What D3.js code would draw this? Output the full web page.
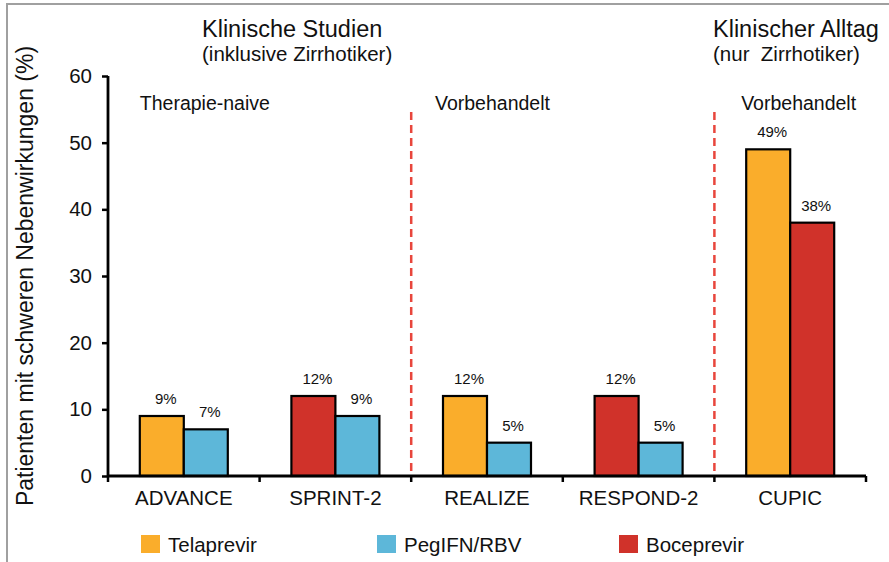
<!DOCTYPE html>
<html>
<head>
<meta charset="utf-8">
<script src="https://cdn.jsdelivr.net/npm/d3@7/dist/d3.min.js"></script>
<style>
  html, body { margin: 0; padding: 0; background: #fff; }
  svg { display: block; font-family: "Liberation Sans", Arial, sans-serif; }
</style>
</head>
<body>
<svg id="chart" width="889" height="562"></svg>
<script>
// ---- data ----
const categories = ["ADVANCE", "SPRINT-2", "REALIZE", "RESPOND-2", "CUPIC"];
const firstSeries = ["Telaprevir", "Boceprevir", "Telaprevir", "Boceprevir", "Telaprevir"];
const firstValues = [9, 12, 12, 12, 49];
const secondSeries = ["PegIFN/RBV", "PegIFN/RBV", "PegIFN/RBV", "PegIFN/RBV", "Boceprevir"];
const secondValues = [7, 9, 5, 5, 38];
const legendSeries = ["Telaprevir", "PegIFN/RBV", "Boceprevir"];
const yTicks = [0, 10, 20, 30, 40, 50, 60];
const sectionLabels = ["Therapie-naive", "Vorbehandelt", "Vorbehandelt"];
const sectionStart = ["ADVANCE", "REALIZE", "CUPIC"];
const separatorsBefore = ["REALIZE", "CUPIC"];

const colors = { "Telaprevir": "#FAAD2B", "PegIFN/RBV": "#5DB7D9", "Boceprevir": "#D0322A" };

const bars = [];
categories.forEach((c, i) => {
  bars.push({ cat: c, slot: 0, series: firstSeries[i], value: firstValues[i] });
  bars.push({ cat: c, slot: 1, series: secondSeries[i], value: secondValues[i] });
});

const svg = d3.select("#chart");
const font = "'Liberation Sans', Arial, sans-serif";

// border (left + top)
svg.append("path").attr("d", "M7,562 L7,4 L889,4")
  .attr("fill", "none").attr("stroke", "#a0a0a0").attr("stroke-width", 2);

const x = d3.scaleBand().domain(categories).range([108, 866]).padding(0);
const barW = 44;
const inner = d3.scaleBand().domain([0, 1])
  .range([x.bandwidth() / 2 - barW, x.bandwidth() / 2 + barW]).padding(0);
const y = d3.scaleLinear().domain([0, 60]).range([476, 76]);

// dashed separators
svg.append("g").selectAll("line").data(separatorsBefore).join("line")
  .attr("x1", d => x(d)).attr("x2", d => x(d))
  .attr("y1", 112).attr("y2", y(0))
  .attr("stroke", "#E8463C").attr("stroke-width", 2.5)
  .attr("stroke-dasharray", "8,5");

// bars
svg.append("g").selectAll("rect").data(bars).join("rect")
  .attr("x", d => x(d.cat) + inner(d.slot))
  .attr("y", d => y(d.value))
  .attr("width", inner.bandwidth())
  .attr("height", d => y(0) - y(d.value))
  .attr("fill", d => colors[d.series])
  .attr("stroke", "#000").attr("stroke-width", 2.2);

// value labels
svg.append("g").selectAll("text").data(bars).join("text")
  .attr("x", d => x(d.cat) + inner(d.slot) + inner.bandwidth() / 2 + 4)
  .attr("y", d => y(d.value) - 12)
  .attr("text-anchor", "middle")
  .attr("font-size", 15).attr("fill", "#111")
  .text(d => d.value + "%");

// y axis
const yAxis = svg.append("g").attr("transform", "translate(108,0)")
  .call(d3.axisLeft(y).tickValues(yTicks).tickSize(6).tickPadding(10).tickFormat(d3.format("d")));
yAxis.select(".domain").attr("stroke", "#000").attr("stroke-width", 2.8).attr("d", `M0,${y(60)}V${y(0)}`);
yAxis.selectAll(".tick line").attr("stroke", "#000").attr("stroke-width", 2.5);
yAxis.selectAll(".tick text").attr("font-size", 20.5).attr("font-family", font).attr("fill", "#111");

// x axis
const xAxis = svg.append("g").attr("transform", `translate(0,${y(0)})`)
  .call(d3.axisBottom(x).tickSize(0).tickPadding(14));
xAxis.select(".domain").attr("stroke", "#000").attr("stroke-width", 2.8).attr("d", `M108,0H866`);
xAxis.selectAll(".tick text").attr("font-size", 20.5).attr("font-family", font).attr("fill", "#111")
  .attr("dy", "0.71em");
const boundaries = categories.map(c => x(c)).concat([x.range()[1]]);
xAxis.append("g").selectAll("line").data(boundaries).join("line")
  .attr("x1", d => d).attr("x2", d => d).attr("y1", 0).attr("y2", 6)
  .attr("stroke", "#000").attr("stroke-width", 2.5);

// section labels
svg.append("g").selectAll("text").data(sectionLabels).join("text")
  .attr("x", (d, i) => x(sectionStart[i]) + inner(0) + [0, -8, -5][i])
  .attr("y", 110)
  .attr("font-size", 19.5).attr("fill", "#111")
  .text(d => d);

// titles
svg.append("text").attr("x", 202).attr("y", 37).attr("font-size", 23.5).attr("fill", "#111").text("Klinische Studien");
svg.append("text").attr("x", 202).attr("y", 61).attr("font-size", 20.5).attr("fill", "#111").text("(inklusive Zirrhotiker)");
svg.append("text").attr("x", 713).attr("y", 37).attr("font-size", 23.5).attr("fill", "#111").text("Klinischer Alltag");
svg.append("text").attr("x", 713).attr("y", 61).attr("font-size", 20.5).attr("fill", "#111")
  .attr("xml:space", "preserve").style("white-space", "pre").text("(nur  Zirrhotiker)");

// y axis title
svg.append("text")
  .attr("transform", "translate(33,276) rotate(-90)")
  .attr("text-anchor", "middle")
  .attr("font-size", 23).attr("fill", "#111")
  .text("Patienten mit schweren Nebenwirkungen (%)");

// legend
const legendX = [141, 377, 619];
const lg = svg.append("g").selectAll("g").data(legendSeries).join("g")
  .attr("transform", (d, i) => `translate(${legendX[i]},535)`);
lg.append("rect").attr("width", 19).attr("height", 18).attr("fill", d => colors[d]);
lg.append("text").attr("x", 27).attr("y", 17).attr("font-size", 20.5).attr("fill", "#111").text(d => d);
</script>
</body>
</html>
